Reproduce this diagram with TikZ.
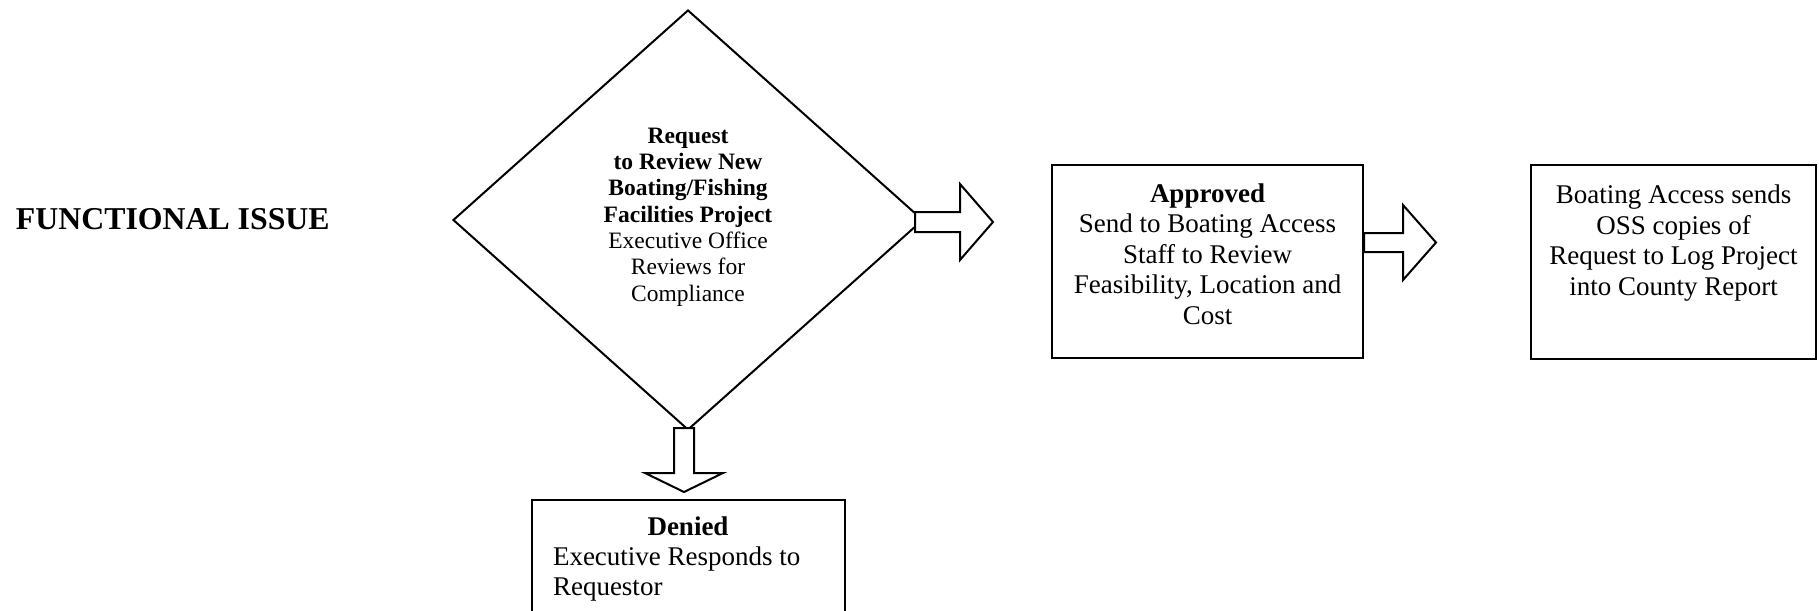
\documentclass[tikz,border=0pt]{standalone}
\usepackage{fontspec}
\setmainfont{Liberation Serif}
\usetikzlibrary{shapes.geometric}
\begin{document}
\begin{tikzpicture}[x=0.5pt,y=-0.5pt,
  line width=1pt,
  decision/.style={draw, diamond, minimum width=235pt, minimum height=210pt, inner sep=0pt},
  stepbox/.style={draw, rectangle, inner sep=0pt},
  boxtext/.style={font=\fontsize{13.5}{15.2}\selectfont, align=center, inner sep=0pt},
  dectext/.style={font=\fontsize{11.75}{13.15}\selectfont, align=center, inner sep=0pt},
  blockarrow/.style={draw, fill=white, line join=miter},
]
\useasboundingbox (0,0) rectangle (1819,610);

\node[anchor=base west, inner sep=0pt, font=\bfseries\fontsize{15.9}{18}\selectfont] (title) at (15,229) {FUNCTIONAL ISSUE};

\node[decision] (req) at (688,220) {};
\node[dectext] (reqtext) at (688,217) {\textbf{Request}\\\textbf{to Review New}\\\textbf{Boating/Fishing}\\\textbf{Facilities Project}\\Executive Office\\Reviews for\\Compliance};

\node[stepbox, minimum width=155.5pt, minimum height=96.5pt] (appr) at (1207.5,261.5) {};
\node[boxtext] (apprtext) at (1207.5,254) {\textbf{Approved}\\Send to Boating Access\\Staff to Review\\Feasibility, Location and\\Cost};

\node[stepbox, minimum width=142.5pt, minimum height=97pt] (oss) at (1673.5,262) {};
\node[boxtext] (osstext) at (1673.5,243) {Boating Access sends\\OSS copies of\\Request to Log Project\\into County Report};

\node[stepbox, anchor=north, minimum width=156.5pt, minimum height=70pt] (den) at (688.5,499) {};
\node[inner sep=0pt, align=left, font=\fontsize{13.5}{15.2}\selectfont] (dentext) at (688,559)
  {\makebox[135pt][c]{\textbf{Denied}}\\Executive Responds to\\Requestor};

% block arrows
\draw[blockarrow] ([shift={(-9,-8)}]req.east) -- ++(45,0) -- ++(0,-28) -- ++(33,38) -- ++(-33,38) -- ++(0,-28) -- ++(-45,0) -- cycle;
\draw[blockarrow] ([shift={(0,-28.5)}]appr.east) -- ++(39,0) -- ++(0,-28) -- ++(33,37.5) -- ++(-33,37.5) -- ++(0,-28) -- ++(-39,0) -- cycle;
\draw[blockarrow] ([shift={(-14,-3)}]req.south) -- ++(0,45) -- ++(-29,0) -- ++(39,19) -- ++(39,-19) -- ++(-29,0) -- ++(0,-45) -- cycle;
\end{tikzpicture}
\end{document}
